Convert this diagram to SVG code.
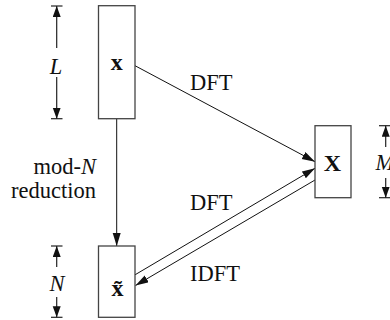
<svg xmlns="http://www.w3.org/2000/svg" width="390" height="320" viewBox="0 0 390 320">
<style>
.box{fill:#fff;stroke:#444;stroke-width:1.3}
.ln{stroke:#111;stroke-width:1;fill:none}
.dim{stroke:#222;stroke-width:1.2;fill:none}
.t{font-family:'Liberation Serif',Tinos,'Times New Roman',Times,serif;font-size:22.5px;fill:#111}
.b{font-weight:bold;font-size:24px}
.i{font-style:italic}
</style>
<defs>
<marker id="arr" markerUnits="userSpaceOnUse" markerWidth="14" markerHeight="9" refX="13" refY="4" orient="auto">
<path d="M0,0 L13,4 L0,8 z" fill="#111"/>
</marker>
<marker id="darr" markerUnits="userSpaceOnUse" markerWidth="12" markerHeight="9" refX="11" refY="4" orient="auto">
<path d="M0,0 L11,4 L0,8 z" fill="#111"/>
</marker>
</defs>
<g id="connectors">
<line class="ln" x1="135" y1="65.7" x2="315" y2="161.7" marker-end="url(#arr)"/>
<line class="ln" x1="116.7" y1="118.7" x2="116.7" y2="246" marker-end="url(#arr)"/>
<line class="ln" x1="134.7" y1="275" x2="315" y2="168.3" marker-end="url(#arr)"/>
<line class="ln" x1="315" y1="180" x2="135.5" y2="285.5" marker-end="url(#arr)"/>
<text class="t" x="190" y="90">DFT</text>
<text class="t" x="96" y="174" text-anchor="end">mod-<tspan class="i">N</tspan></text>
<text class="t" x="96" y="198" text-anchor="end">reduction</text>
<text class="t" x="190" y="210">DFT</text>
<text class="t" x="190" y="281">IDFT</text>
</g>
<g id="node-x">
<rect class="box" x="98.5" y="5.7" width="36.5" height="113"/>
<text class="t b" x="116.7" y="70" text-anchor="middle">x</text>
</g>
<g id="node-X">
<rect class="box" x="315" y="125.7" width="36" height="72"/>
<text class="t b" x="332.5" y="171" text-anchor="middle">X</text>
</g>
<g id="node-xtilde">
<rect class="box" x="98.5" y="246" width="36.5" height="71.3"/>
<text class="t b" x="117.5" y="296" text-anchor="middle">x&#x303;</text>
</g>
<g id="dim-L">
<line class="dim" x1="51" y1="6" x2="62.5" y2="6"/>
<line class="dim" x1="51" y1="118.7" x2="62.5" y2="118.7"/>
<line class="dim" x1="56.7" y1="48" x2="56.7" y2="6" marker-end="url(#darr)"/>
<line class="dim" x1="56.7" y1="77" x2="56.7" y2="118.7" marker-end="url(#darr)"/>
<text class="t i" x="56" y="74" text-anchor="middle">L</text>
</g>
<g id="dim-N">
<line class="dim" x1="51" y1="246" x2="62.5" y2="246"/>
<line class="dim" x1="51" y1="317.3" x2="62.5" y2="317.3"/>
<line class="dim" x1="56.7" y1="267" x2="56.7" y2="246" marker-end="url(#darr)"/>
<line class="dim" x1="56.7" y1="297" x2="56.7" y2="317.3" marker-end="url(#darr)"/>
<text class="t i" x="57" y="291" text-anchor="middle">N</text>
</g>
<g id="dim-M">
<line class="dim" x1="379" y1="125.7" x2="392" y2="125.7"/>
<line class="dim" x1="379" y1="197.7" x2="392" y2="197.7"/>
<line class="dim" x1="385.7" y1="147" x2="385.7" y2="125.7" marker-end="url(#darr)"/>
<line class="dim" x1="385.7" y1="178" x2="385.7" y2="197.7" marker-end="url(#darr)"/>
<text class="t i" x="375.5" y="170">M</text>
</g>
</svg>
